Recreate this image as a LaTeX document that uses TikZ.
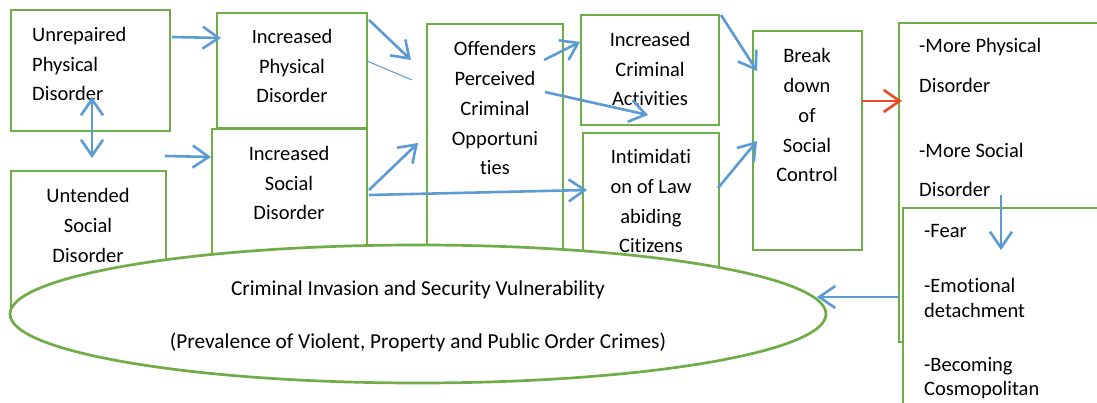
\documentclass[tikz,border=0pt]{standalone}
\usepackage{fontspec}
\setmainfont{Carlito}[Ligatures=NoCommon]
\usetikzlibrary{arrows.meta,shapes.geometric}
\definecolor{boxgreen}{HTML}{70AD47}
\definecolor{flowblue}{HTML}{5B9BD5}
\definecolor{flowred}{HTML}{EA4B22}
\begin{document}
\begin{tikzpicture}[x=1pt,y=-1pt,
  box/.style={draw=boxgreen, line width=2.7pt, fill=white, rectangle, anchor=north west, inner sep=0pt, outer sep=0pt},
  % multi-line labels are placed by the baseline of their last line
  lbl/.style={font=\fontsize{20.5}{29.8}\selectfont, align=center, anchor=base, inner sep=0pt},
  lbll/.style={lbl, align=left, anchor=base west},
  tip/.style={-{Straight Barb[length=16pt,width=22pt]}},
  flow/.style={draw=flowblue, line width=2.6pt, tip},
  twoway/.style={draw=flowblue, line width=2.6pt, {Straight Barb[length=16pt,width=22pt]}-{Straight Barb[length=16pt,width=22pt]}},
  hot/.style={draw=flowred, line width=2.6pt, tip},
  faint/.style={draw=flowblue, line width=1pt},
 ]
\useasboundingbox (0,0) rectangle (1097,403);
\clip (0,0) rectangle (1097,403);

% boxes
\node[box, minimum width=159pt, minimum height=121pt] (b1) at (11,10) {};
\node[box, minimum width=155pt, minimum height=141pt] (b2) at (11,171) {};
\node[box, minimum width=150pt, minimum height=115pt] (b3) at (217,13) {};
\node[box, minimum width=155pt, minimum height=171pt] (b4) at (212,129) {};
\node[box, minimum width=136pt, minimum height=276pt] (b5) at (427,24) {};
\node[box, minimum width=138pt, minimum height=110pt] (b6) at (581,15) {};
\node[box, minimum width=136pt, minimum height=167pt] (b7) at (583,133) {};
\node[box, minimum width=109pt, minimum height=219pt] (b8) at (753,31) {};
\node[box, minimum width=230pt, minimum height=319pt] (b9) at (899,23) {};
\node[box, minimum width=230pt, minimum height=220pt] (b10) at (903,208) {};

% outcome ellipse
\node[draw=boxgreen, line width=2.7pt, fill=white, ellipse, inner sep=0pt,
      minimum width=816pt, minimum height=138pt] (el) at (418,314) {};

% texts
\node[lbll] (t1) at (32,101) {Unrepaired\\Physical\\Disorder};
\node[lbl] (t2) at (88,262) {Untended\\Social\\Disorder};
\node[lbl] (t3) at (292,103) {Increased\\Physical\\Disorder};
\node[lbl] (t4) at (289,220) {Increased\\Social\\Disorder};
\node[lbl] (t5) at (495,175) {Offenders\\Perceived\\Criminal\\Opportuni\\ties};
\node[lbl] (t6) at (650,106) {Increased\\Criminal\\Activities};
\node[lbl] (t7) at (651,253) {Intimidati\\on of Law\\abiding\\Citizens};
\node[lbl] (t8) at (807,182) {Break\\down\\of\\Social\\Control};
\node[lbll, font=\fontsize{20.5}{40}\selectfont] (t9a) at (919,93) {-More Physical\\Disorder};
\node[lbll, font=\fontsize{20.5}{39}\selectfont] (t9b) at (919,197) {-More Social\\Disorder};
\node[lbll] (t10a) at (924,238) {-Fear};
\node[lbll, font=\fontsize{20.5}{25}\selectfont] (t10b) at (924,317) {-Emotional\\detachment};
\node[lbll, font=\fontsize{20.5}{24}\selectfont] (t10c) at (924,395) {-Becoming\\Cosmopolitan};
\node[lbl, font=\fontsize{21.3}{53}\selectfont] (tel) at (418,348) {Criminal Invasion and Security Vulnerability\\(Prevalence of Violent, Property and Public Order Crimes)};

% connector ends
\coordinate (a1) at (172,37);   \coordinate (a2) at (221,38);
\coordinate (v1) at (92,97);    \coordinate (v2) at (92,158);
\coordinate (c1) at (165,156);  \coordinate (c2) at (211,157);
\coordinate (d1) at (369,20);   \coordinate (d2) at (411,60);
\coordinate (e1) at (367,61);   \coordinate (e2) at (412,80);
\coordinate (f1) at (369,190);  \coordinate (f2) at (418,143);
\coordinate (g1) at (369,195);  \coordinate (g2) at (587,190);
\coordinate (h1) at (544,60);   \coordinate (h2) at (580,42);
\coordinate (i1) at (545,92);   \coordinate (i2) at (648,115);
\coordinate (j1) at (721,15);   \coordinate (j2) at (757,71);
\coordinate (k1) at (718,188);  \coordinate (k2) at (757,141);
\coordinate (l1) at (862,101);  \coordinate (l2) at (902,101);
\coordinate (m1) at (1001,195); \coordinate (m2) at (1001,250);
\coordinate (n1) at (899,297);  \coordinate (n2) at (817,297);

% connectors
\draw[flow] (a1) -- (a2);
\draw[twoway] (v1) -- (v2);
\draw[flow] (c1) -- (c2);
\draw[flow] (d1) -- (d2);
\draw[faint] (e1) -- (e2);
\draw[flow] (f1) -- (f2);
\draw[flow] (g1) -- (g2);
\draw[flow] (h1) -- (h2);
\draw[flow] (i1) -- (i2);
\draw[flow] (j1) -- (j2);
\draw[flow] (k1) -- (k2);
\draw[hot] (l1) -- (l2);
\draw[flow] (m1) -- (m2);
\draw[flow] (n1) -- (n2);
\end{tikzpicture}
\end{document}
